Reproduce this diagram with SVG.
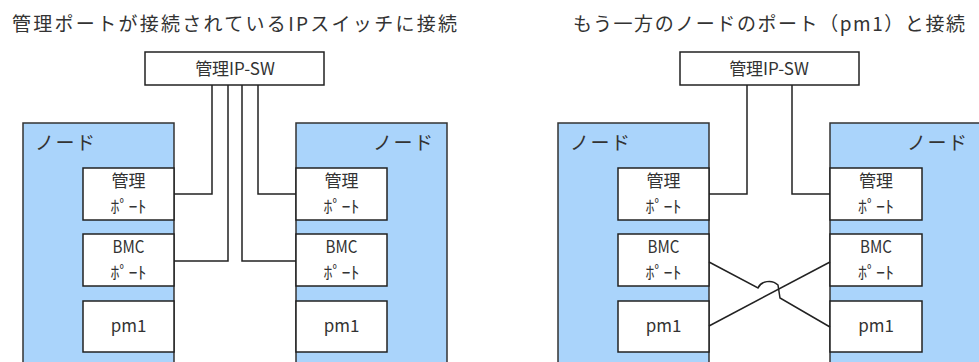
<svg xmlns="http://www.w3.org/2000/svg" width="979" height="362" viewBox="0 0 979 362">
<style>
  text { font-family: "Noto Sans CJK JP", "DejaVu Sans", sans-serif; fill: #333; }
  .title { font-size: 19px; }
  .sw { font-size: 17px; }
  .nl { font-size: 19px; }
  .pl { font-size: 17px; text-anchor: middle; }
  .node { fill: #aad4fb; stroke: #333; stroke-width: 1.5; }
  .box { fill: #fff; stroke: #222; stroke-width: 1.5; }
  .ln { fill: none; stroke: #222; stroke-width: 1.5; }
</style>
<rect width="979" height="362" fill="#fff"/>
<text class="title" x="12" y="31" textLength="445" lengthAdjust="spacing">管理ポートが接続されているIPスイッチに接続</text>
<text class="title" x="573" y="31" textLength="392" lengthAdjust="spacing">もう一方のノードのポート（pm1）と接続</text>

<g id="sw1"><rect class="box" x="145" y="52" width="179" height="33"/><text class="sw" x="235" y="75" text-anchor="middle">管理IP-SW</text></g>
<g id="sw2"><rect class="box" x="680" y="52" width="179" height="33"/><text class="sw" x="769" y="75" text-anchor="middle">管理IP-SW</text></g>

<g id="nodeL1">
  <rect class="node" x="23" y="123" width="151" height="260"/>
  <text class="nl" x="35" y="150" textLength="60" lengthAdjust="spacing">ノード</text>
  <rect class="box" x="83" y="168" width="91" height="52"/>
  <text class="pl" x="128.5" y="187">管理</text><text class="pl" x="128.5" y="213" textLength="36" lengthAdjust="spacingAndGlyphs">ﾎﾟｰﾄ</text>
  <rect class="box" x="83" y="234" width="91" height="52"/>
  <text class="pl" x="128.5" y="253" textLength="32" lengthAdjust="spacingAndGlyphs">BMC</text><text class="pl" x="128.5" y="279" textLength="36" lengthAdjust="spacingAndGlyphs">ﾎﾟｰﾄ</text>
  <rect class="box" x="83" y="301" width="91" height="51"/>
  <text class="pl" x="128.5" y="332">pm1</text>
</g>
<g id="nodeR1">
  <rect class="node" x="296" y="123" width="151" height="260"/>
  <text class="nl" x="373" y="150" textLength="60" lengthAdjust="spacing">ノード</text>
  <rect class="box" x="296" y="168" width="91" height="52"/>
  <text class="pl" x="341.5" y="187">管理</text><text class="pl" x="341.5" y="213" textLength="36" lengthAdjust="spacingAndGlyphs">ﾎﾟｰﾄ</text>
  <rect class="box" x="296" y="234" width="91" height="52"/>
  <text class="pl" x="341.5" y="253" textLength="32" lengthAdjust="spacingAndGlyphs">BMC</text><text class="pl" x="341.5" y="279" textLength="36" lengthAdjust="spacingAndGlyphs">ﾎﾟｰﾄ</text>
  <rect class="box" x="296" y="301" width="91" height="51"/>
  <text class="pl" x="341.5" y="332">pm1</text>
</g>
<g id="nodeL2">
  <rect class="node" x="558" y="123" width="151" height="260"/>
  <text class="nl" x="570" y="150" textLength="60" lengthAdjust="spacing">ノード</text>
  <rect class="box" x="618" y="168" width="91" height="52"/>
  <text class="pl" x="663.5" y="187">管理</text><text class="pl" x="663.5" y="213" textLength="36" lengthAdjust="spacingAndGlyphs">ﾎﾟｰﾄ</text>
  <rect class="box" x="618" y="234" width="91" height="52"/>
  <text class="pl" x="663.5" y="253" textLength="32" lengthAdjust="spacingAndGlyphs">BMC</text><text class="pl" x="663.5" y="279" textLength="36" lengthAdjust="spacingAndGlyphs">ﾎﾟｰﾄ</text>
  <rect class="box" x="618" y="301" width="91" height="51"/>
  <text class="pl" x="663.5" y="332">pm1</text>
</g>
<g id="nodeR2">
  <rect class="node" x="830" y="123" width="200" height="260"/>
  <text class="nl" x="907" y="150" textLength="60" lengthAdjust="spacing">ノード</text>
  <rect class="box" x="830" y="168" width="92" height="52"/>
  <text class="pl" x="876" y="187">管理</text><text class="pl" x="876" y="213" textLength="36" lengthAdjust="spacingAndGlyphs">ﾎﾟｰﾄ</text>
  <rect class="box" x="830" y="234" width="92" height="52"/>
  <text class="pl" x="876" y="253" textLength="32" lengthAdjust="spacingAndGlyphs">BMC</text><text class="pl" x="876" y="279" textLength="36" lengthAdjust="spacingAndGlyphs">ﾎﾟｰﾄ</text>
  <rect class="box" x="830" y="301" width="92" height="51"/>
  <text class="pl" x="876" y="332">pm1</text>
</g>

<g id="connectors">
  <polyline class="ln" points="174,194 212,194 212,85"/>
  <polyline class="ln" points="174,261 228,261 228,85"/>
  <polyline class="ln" points="296,261 242,261 242,85"/>
  <polyline class="ln" points="296,194 258,194 258,85"/>
  <polyline class="ln" points="709,194 747,194 747,85"/>
  <polyline class="ln" points="830,194 792,194 792,85"/>
  <path class="ln" d="M709,262 L758,288 C761,281 772,279 778,285 L780,298 L830,327"/>
  <line class="ln" x1="830" y1="262" x2="709" y2="326"/>
</g>
</svg>
